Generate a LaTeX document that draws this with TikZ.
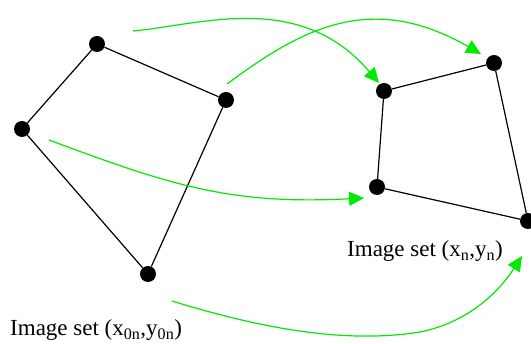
\documentclass[tikz,border=0pt]{standalone}
\usepackage{fontspec}
\setmainfont{Liberation Serif}
\usetikzlibrary{arrows.meta}
\definecolor{grn}{RGB}{0,235,0}
\begin{document}
\begin{tikzpicture}[x=1pt,y=-1pt,
  dot/.style={circle,fill=black,inner sep=0pt,minimum size=16pt},
  edge/.style={line width=1.2pt,black},
  map/.style={grn,line width=1.2pt,-{Triangle[length=15pt,width=14pt]}},
  lbl/.style={font=\fontsize{23}{26}\selectfont,inner sep=0pt}]
\useasboundingbox (0,0) rectangle (531,344);
\begin{scope}
\clip (0,0) rectangle (531,344);
% left quadrilateral
\node[dot] (a) at (97,44) {};
\node[dot] (b) at (226,100) {};
\node[dot] (c) at (22,129) {};
\node[dot] (d) at (148,274) {};
\draw[edge] (a) -- (b) -- (d) -- (c) -- (a);
% right quadrilateral
\node[dot] (e) at (384,91) {};
\node[dot] (f) at (494,63) {};
\node[dot] (g) at (377,187) {};
\node[dot] (h) at (528,221) {};
\draw[edge] (e) -- (f) -- (h) -- (g) -- (e);
% free ends of mappings
\coordinate (s1) at (133,31);
\coordinate (t1) at (379,83);
\coordinate (s2) at (227,84);
\coordinate (t2) at (481,54);
\coordinate (s3) at (49,140);
\coordinate (t3) at (364,198);
\coordinate (s4) at (172,301);
\coordinate (t4) at (522,256);
\draw[map] (s1) .. controls (200,25) and (300,-10) .. (t1);
\draw[map] (s2) .. controls (300,30) and (370,-10) .. (t2);
\draw[map] (s3) .. controls (170,185) and (230,205) .. (t3);
\draw[map] (s4) .. controls (250,325) and (340,345) .. (420,332) .. controls (470,322) and (500,290) .. (t4);
\end{scope}
\node[lbl,anchor=base west] (l1) at (10,336) {Image set (x\textsubscript{0n},y\textsubscript{0n})};
\node[lbl,anchor=base west] (l2) at (347,257) {Image set (x\textsubscript{n},y\textsubscript{n})};
\end{tikzpicture}
\end{document}
